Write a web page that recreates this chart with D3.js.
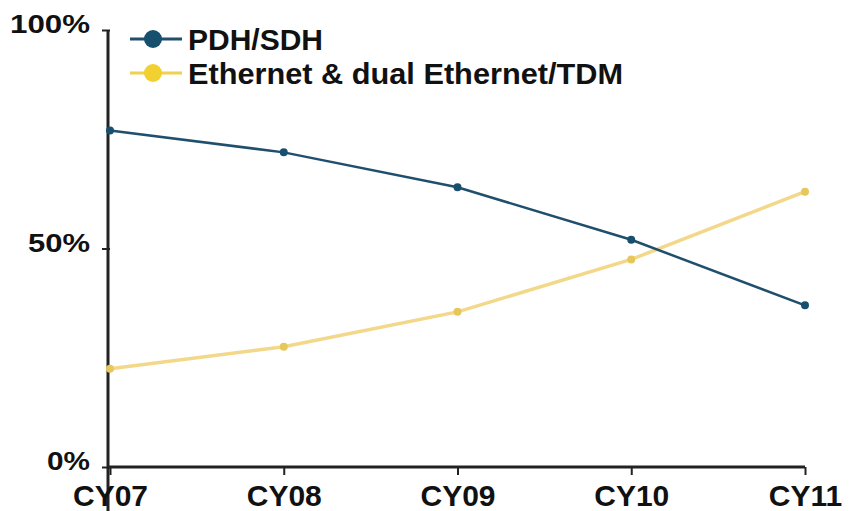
<!DOCTYPE html>
<meta charset="utf-8">
<head>
<script src="https://d3js.org/d3.v7.min.js"></script>
<style>
body { margin: 0; background: #fff; }
.tick text { font-family: "Liberation Sans", Arial, sans-serif; font-weight: bold; fill: #111; }
.legend { font-family: "Liberation Sans", Arial, sans-serif; font-weight: bold; font-size: 30px; fill: #111; }
</style>
</head>
<body>
<svg id="chart"></svg>
<script>
// data
var years = ["CY07", "CY08", "CY09", "CY10", "CY11"];
var pdhSdh = [77, 72, 64, 52, 37];
var ethernet = [22.5, 27.5, 35.5, 47.5, 63];
var yTicks = [0, 50, 100];

var margin = {top: 30, right: 47, bottom: 44, left: 110},
    width = 852 - margin.left - margin.right,
    height = 511 - margin.top - margin.bottom;

var svg = d3.select("#chart")
    .attr("width", 852)
    .attr("height", 511)
  .append("g")
    .attr("transform", "translate(" + margin.left + "," + margin.top + ")");

var x = d3.scalePoint().domain(years).range([0, width]);
var y = d3.scaleLinear().domain([0, 100]).range([height, 0]);

// axes
var xAxis = svg.append("g")
    .attr("transform", "translate(0," + height + ")")
    .call(d3.axisBottom(x).tickSize(8).tickPadding(6));
xAxis.selectAll("text").style("font-size", "30px").attr("y", 39).attr("dy", 0);

var yAxis = svg.append("g")
    .call(d3.axisLeft(y).tickValues(yTicks).tickFormat(function(d) { return d + "%"; }).tickSize(8).tickPadding(12));
yAxis.selectAll("text").style("font-size", "25px").attr("dy", "0.1em")
    .attr("textLength", function(d) { return d == 100 ? 80 : d == 50 ? 62 : 43; })
    .attr("lengthAdjust", "spacingAndGlyphs");

svg.selectAll(".domain").attr("stroke", "#222").attr("stroke-width", 3)
    .attr("d", "M-2,0V" + height + "H" + width);
svg.selectAll(".tick line").attr("stroke", "#222").attr("stroke-width", 2);

var series = [
    {name: "PDH/SDH", values: pdhSdh, line: "#1f4f6c", dot: "#17506e", w: 2.5},
    {name: "Ethernet & dual Ethernet/TDM", values: ethernet, line: "#f3d88a", dot: "#e8c75a", w: 3.5}
];

var line = d3.line()
    .x(function(d, i) { return x(years[i]); })
    .y(function(d) { return y(d); });

// draw the yellow one first, blue on top
series.slice().reverse().forEach(function(s) {
    svg.append("path")
        .datum(s.values)
        .attr("fill", "none")
        .attr("stroke", s.line)
        .attr("stroke-width", s.w)
        .attr("d", line);
    svg.selectAll(null)
        .data(s.values)
        .enter().append("circle")
        .attr("cx", function(d, i) { return x(years[i]); })
        .attr("cy", function(d) { return y(d); })
        .attr("r", 4)
        .attr("fill", s.dot);
});

// legend
var legend = svg.append("g").attr("transform", "translate(20,9)");
series.forEach(function(s, i) {
    var g = legend.append("g").attr("transform", "translate(0," + (i * 34) + ")");
    g.append("line").attr("x1", 0).attr("x2", 52)
        .attr("stroke", i == 0 ? s.line : "#f0d050").attr("stroke-width", 3);
    g.append("circle").attr("cx", 23).attr("r", 9)
        .attr("fill", i == 0 ? s.dot : "#f2d030");
    g.append("text").attr("class", "legend")
        .attr("x", 58).attr("dy", "0.36em")
        .attr("textLength", i == 0 ? 135 : 435)
        .attr("lengthAdjust", "spacingAndGlyphs")
        .text(s.name);
});
</script>
</body>
